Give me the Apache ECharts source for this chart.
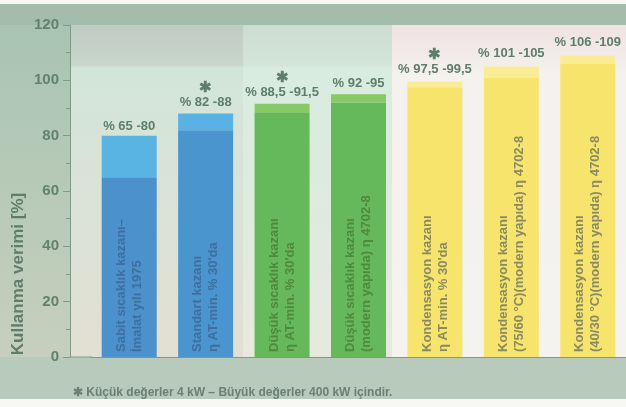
<!DOCTYPE html>
<html>
<head>
<meta charset="utf-8">
<script src="https://cdn.jsdelivr.net/npm/echarts@6/dist/echarts.min.js"></script>
<style>
html,body{margin:0;padding:0;background:#f7f7f3;}
#chart{width:626px;height:407px;}
</style>
</head>
<body>
<div id="chart"></div>
<script>
// ---- data ----
const categories = [
  'Sabit sıcaklık kazanı–\nİmalat yılı 1975',
  'Standart kazanı\nη AT-min. % 30\'da',
  'Düşük sıcaklık kazanı\nη AT-min. % 30\'da',
  'Düşük sıcaklık kazanı\n(modern yapıda) η 4702-8',
  'Kondensasyon kazanı\nη AT-min. % 30\'da',
  'Kondensasyon kazanı\n(75/60 °C)(modern yapıda) η 4702-8',
  'Kondensasyon kazanı\n(40/30 °C)(modern yapıda) η 4702-8'
];
const lowValues  = [65, 82, 88.5, 92, 97.5, 101, 106];
const highValues = [80, 88, 91.5, 95, 99.5, 105, 109];
const rangeLabels = ['% 65 -80', '% 82 -88', '% 88,5 -91,5', '% 92 -95', '% 97,5 -99,5', '% 101 -105', '% 106 -109'];
const starred = [false, true, true, false, true, false, false];
const yMin = 0, yMax = 120, yStep = 20;
const axisTitle = 'Kullanma verimi [%]';
const footnote = '✱ Küçük değerler 4 kW – Büyük değerler 400 kW içindir.';

// ---- styles ----
const lowColors  = ['#4b92cc', '#4a95cd', '#66b95a', '#66b95a', '#f6e46c', '#f6e46c', '#f6e46c'];
const highColors = ['#59b3e3', '#5ab1e3', '#86c965', '#86c965', '#f9ec94', '#f9ec94', '#f9ec94'];
const innerText  = ['#3f6e9e', '#3f6e9e', '#4d8a3b', '#4d8a3b', '#8a8a62', '#8a8a62', '#8a8a62'];
const topLabelGap = [1, 3, 3, 3, 4, 5, 5];
const FONT = '"Liberation Sans", Arial, sans-serif';
const AX = '#62826e';

const chart = echarts.init(document.getElementById('chart'), null, {renderer: 'canvas'});

const diff = highValues.map((h, i) => +(h - lowValues[i]).toFixed(2));

const option = {
  animation: false,
  backgroundColor: '#f7f7f3',
  grid: {left: 91, right: -1, top: 25, bottom: 50, containLabel: false},
  graphic: [
    // decorative background panels
    {type: 'rect', silent: true, z: -10, shape: {x: 0, y: 4, width: 626, height: 396}, style: {fill: '#b2c9b9'}},
    {type: 'rect', silent: true, z: -10, shape: {x: 0, y: 4, width: 626, height: 21}, style: {fill: '#a3bcab'}},
    {type: 'rect', silent: true, z: -9, shape: {x: 0, y: 25, width: 70, height: 332},
      style: {fill: {type: 'linear', x: 0, y: 0, x2: 0, y2: 1, colorStops: [{offset: 0, color: '#a9c4b2'}, {offset: 1, color: '#c6cfbd'}]}}},
    {type: 'rect', silent: true, z: -9, shape: {x: 70, y: 25, width: 173, height: 332},
      style: {fill: {type: 'linear', x: 0, y: 0, x2: 0, y2: 1, colorStops: [{offset: 0, color: '#bfcbc3'}, {offset: 0.12, color: '#c8d6cc'}, {offset: 0.13, color: '#d2e5d9'}, {offset: 1, color: '#e3dfd3'}]}}},
    {type: 'rect', silent: true, z: -9, shape: {x: 243, y: 25, width: 149, height: 332},
      style: {fill: {type: 'linear', x: 0, y: 0, x2: 0, y2: 1, colorStops: [{offset: 0, color: '#cddcd2'}, {offset: 0.12, color: '#d3e4d9'}, {offset: 0.13, color: '#d8ecdf'}, {offset: 1, color: '#e6e9de'}]}}},
    {type: 'rect', silent: true, z: -9, shape: {x: 392, y: 25, width: 234, height: 332},
      style: {fill: {type: 'linear', x: 0, y: 0, x2: 0, y2: 1, colorStops: [{offset: 0, color: '#efe2e2'}, {offset: 0.15, color: '#f4f1ee'}, {offset: 1, color: '#f4f3ee'}]}}},
    {type: 'rect', silent: true, z: -9, shape: {x: 0, y: 357, width: 626, height: 42}, style: {fill: '#b7cabc'}},
    {type: 'rect', silent: true, z: -9, shape: {x: 0, y: 399, width: 626, height: 8}, style: {fill: '#f7f7f3'}},
    {type: 'line', silent: true, z: 5, shape: {x1: 70, y1: 357, x2: 92, y2: 357}, style: {stroke: '#7f9a88', lineWidth: 1}},
    // axis title
    {type: 'text', silent: true, z: 5, x: 18, y: 274, rotation: Math.PI / 2,
      style: {text: axisTitle, font: 'bold 17px ' + FONT, fill: '#5d7f6a', align: 'center', verticalAlign: 'middle'}},
    // footnote
    {type: 'text', silent: true, z: 5, x: 73, y: 393,
      style: {text: footnote, font: 'bold 12px ' + FONT, fill: '#6b7f72', align: 'left', verticalAlign: 'middle'}}
  ],
  xAxis: {
    type: 'category',
    data: categories,
    axisLine: {show: true, lineStyle: {color: '#7f9a88', width: 1}},
    axisTick: {show: false},
    axisLabel: {show: false},
    splitLine: {show: false}
  },
  yAxis: {
    type: 'value',
    min: yMin, max: yMax, interval: yStep,
    offset: 21,
    axisLine: {show: true, lineStyle: {color: '#7f9a88', width: 1}},
    axisTick: {show: true, length: 7, lineStyle: {color: '#7f9a88'}},
    minorTick: {show: true, splitNumber: 2, length: 4, lineStyle: {color: '#7f9a88'}},
    axisLabel: {color: AX, fontFamily: FONT, fontWeight: 'bold', fontSize: 15, margin: 11},
    splitLine: {show: false}
  },
  series: [
    {
      type: 'bar',
      stack: 'eff',
      barWidth: 55,
      data: lowValues.map((v, i) => ({
        value: v,
        itemStyle: {color: lowColors[i]},
        label: {color: innerText[i]}
      })),
      label: {
        show: true,
        position: 'insideBottom',
        rotate: 90,
        align: 'left',
        verticalAlign: 'middle',
        distance: 5,
        fontFamily: FONT,
        fontWeight: 'bold',
        fontSize: 13,
        lineHeight: 16,
        formatter: p => categories[p.dataIndex]
      }
    },
    {
      type: 'bar',
      stack: 'eff',
      barWidth: 55,
      data: diff.map((v, i) => ({value: v, itemStyle: {color: highColors[i]}, label: {distance: topLabelGap[i]}})),
      label: {
        show: true,
        position: 'top',
        align: 'center',
        formatter: p => (starred[p.dataIndex] ? '{s|✱}\n' : '') + '{t|' + rangeLabels[p.dataIndex] + '}',
        rich: {
          s: {fontFamily: FONT, fontWeight: 'bold', fontSize: 15, color: '#5f7d6b', lineHeight: 14, align: 'center'},
          t: {fontFamily: FONT, fontWeight: 'bold', fontSize: 13, color: '#5f7d6b', lineHeight: 16, align: 'center'}
        }
      }
    }
  ]
};
chart.setOption(option);
</script>
</body>
</html>
